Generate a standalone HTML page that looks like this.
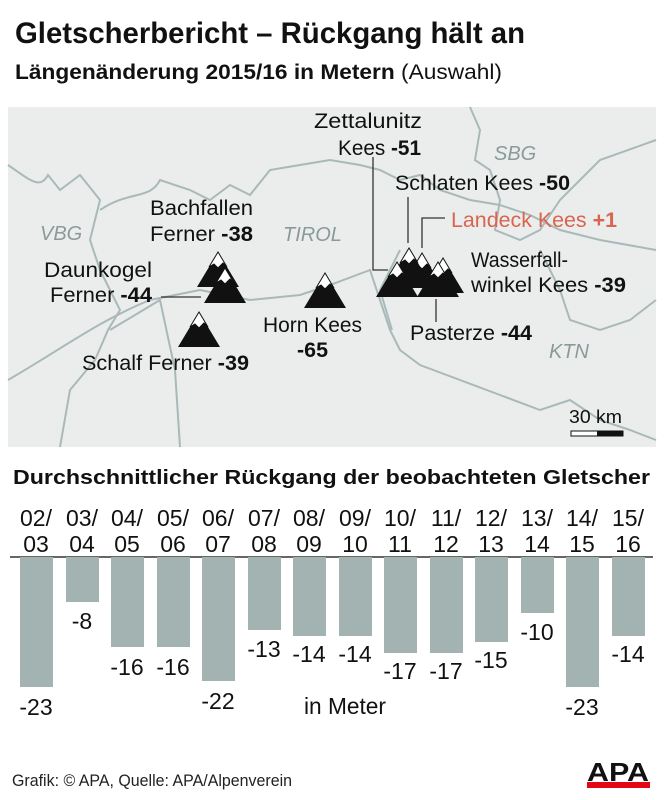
<!DOCTYPE html>
<html><head><meta charset="utf-8"><style>
html,body{margin:0;padding:0;background:#fff;}
svg{display:block;}
text{font-family:"Liberation Sans Narrow","Liberation Sans",sans-serif;}
</style></head><body>
<svg width="665" height="800" viewBox="0 0 665 800" xmlns="http://www.w3.org/2000/svg">
<text x="15" y="43" font-size="30" font-weight="bold" fill="#111" textLength="510" lengthAdjust="spacingAndGlyphs">Gletscherbericht – Rückgang hält an</text>
<text x="15" y="79" font-size="21" fill="#111" textLength="487" lengthAdjust="spacingAndGlyphs"><tspan font-weight="bold">Längenänderung 2015/16 in Metern</tspan> (Auswahl)</text>

<!-- map -->
<rect x="8" y="107" width="648" height="340" fill="#ebeded"/>
<g fill="none" stroke="#a9b9b9" stroke-width="2">
<path d="M8 165 C30 180 40 190 48 175 L60 190 L80 175 L100 200 L90 240 L100 270 L120 310 L108 330 L95 360 L70 390 L60 447"/>
<path d="M100 210 C130 190 150 200 160 180 L190 190 L210 200 L230 185 L250 195 L270 170 L300 165 L330 160 L360 165 L380 170 L400 180 L420 175 L440 190 L470 200 L500 205 L530 215 L560 230 L600 240 L656 250"/>
<path d="M470 107 L480 130 L475 160 L490 170 L500 200 L495 230 L520 240 L540 230 L560 200 L580 180 L600 160 L656 140"/>
<path d="M8 380 C60 350 100 320 150 300 L200 290 L250 300 L300 295 L330 285 L370 270 L380 300 L390 330 L400 350 L420 365 L460 380 L500 395 L540 410 L570 400 L600 420 L630 430 L656 440"/>
<path d="M400 250 L380 290 L392 330"/>
<path d="M540 250 L560 290 L570 320 L600 330 L630 320 L656 300"/>
<path d="M110 330 L160 300 L175 370 L180 447"/>
</g>
<g font-style="italic" fill="#8a9a9a" font-size="20">
<text x="40" y="240">VBG</text><text x="283" y="241">TIROL</text><text x="494" y="160">SBG</text><text x="549" y="358">KTN</text>
</g>
<!-- leader lines -->
<g stroke="#333" stroke-width="1.3" fill="none">
<path d="M373 157 L373 270 L388 270"/>
<path d="M408 197 L408 243"/><path d="M445 218 L422 218 L422 248"/>
<path d="M436 299 L436 322"/><path d="M161 297 L201 297"/>
</g>
<!-- mountains -->
<defs><g id="m"><polygon points="0,0 -21,35 21,35" fill="#111"/><polygon points="0,0 -9,15 -4,12 0,16 5,11 9,15" fill="#fff" stroke="#111" stroke-width="1"/></g></defs>
<use href="#m" x="218" y="252"/><use href="#m" x="225" y="268"/><use href="#m" x="199" y="312"/><use href="#m" x="325" y="273"/>
<use href="#m" x="443" y="258"/><use href="#m" x="422" y="253"/><use href="#m" x="409" y="248"/><use href="#m" x="438" y="262"/><use href="#m" x="397" y="262"/>
<g font-size="21" fill="#111" lengthAdjust="spacingAndGlyphs">
<text x="314" y="128" textLength="108" lengthAdjust="spacingAndGlyphs">Zettalunitz</text>
<text x="338" y="155" textLength="83" lengthAdjust="spacingAndGlyphs">Kees <tspan font-weight="bold">-51</tspan></text>
<text x="395" y="190" textLength="175" lengthAdjust="spacingAndGlyphs">Schlaten Kees <tspan font-weight="bold">-50</tspan></text>
<text x="451" y="227" fill="#d9654e" textLength="166" lengthAdjust="spacingAndGlyphs">Landeck Kees <tspan font-weight="bold">+1</tspan></text>
<text x="471" y="267" textLength="97" lengthAdjust="spacingAndGlyphs">Wasserfall-</text>
<text x="471" y="292" textLength="155" lengthAdjust="spacingAndGlyphs">winkel Kees <tspan font-weight="bold">-39</tspan></text>
<text x="410" y="340" textLength="122" lengthAdjust="spacingAndGlyphs">Pasterze <tspan font-weight="bold">-44</tspan></text>
<text x="150" y="215" textLength="103" lengthAdjust="spacingAndGlyphs">Bachfallen</text>
<text x="150" y="241" textLength="103" lengthAdjust="spacingAndGlyphs">Ferner <tspan font-weight="bold">-38</tspan></text>
<text x="44" y="277" textLength="108" lengthAdjust="spacingAndGlyphs">Daunkogel</text>
<text x="50" y="302" textLength="102" lengthAdjust="spacingAndGlyphs">Ferner <tspan font-weight="bold">-44</tspan></text>
<text x="263" y="332" textLength="99" lengthAdjust="spacingAndGlyphs">Horn Kees</text>
<text x="297" y="357" font-weight="bold" textLength="31" lengthAdjust="spacingAndGlyphs">-65</text>
<text x="82" y="370" textLength="167" lengthAdjust="spacingAndGlyphs">Schalf Ferner <tspan font-weight="bold">-39</tspan></text>
<text x="569" y="423" font-size="18" textLength="53" lengthAdjust="spacingAndGlyphs">30 km</text>
</g>
<rect x="571" y="431" width="52" height="5" fill="#fff" stroke="#111" stroke-width="1"/>
<rect x="597" y="431" width="26" height="5" fill="#111"/>

<text x="13" y="484" font-size="20" font-weight="bold" fill="#111" textLength="637" lengthAdjust="spacingAndGlyphs">Durchschnittlicher Rückgang der beobachteten Gletscher</text>

<line x1="10" y1="557" x2="653" y2="557" stroke="#333" stroke-width="1.5"/>
<g fill="#a3b3b1">
<rect x="20" y="557" width="33" height="130"/>
<rect x="66" y="557" width="33" height="45"/>
<rect x="111" y="557" width="33" height="90"/>
<rect x="157" y="557" width="33" height="90"/>
<rect x="202" y="557" width="33" height="124"/>
<rect x="248" y="557" width="33" height="73"/>
<rect x="293" y="557" width="33" height="79"/>
<rect x="339" y="557" width="33" height="79"/>
<rect x="384" y="557" width="33" height="96"/>
<rect x="430" y="557" width="33" height="96"/>
<rect x="475" y="557" width="33" height="85"/>
<rect x="521" y="557" width="33" height="56"/>
<rect x="566" y="557" width="33" height="130"/>
<rect x="612" y="557" width="33" height="79"/>
</g>
<g font-size="23" fill="#111" text-anchor="middle">
<text x="36" y="526">02/</text><text x="36" y="552">03</text>
<text x="82" y="526">03/</text><text x="82" y="552">04</text>
<text x="127" y="526">04/</text><text x="127" y="552">05</text>
<text x="173" y="526">05/</text><text x="173" y="552">06</text>
<text x="218" y="526">06/</text><text x="218" y="552">07</text>
<text x="264" y="526">07/</text><text x="264" y="552">08</text>
<text x="309" y="526">08/</text><text x="309" y="552">09</text>
<text x="355" y="526">09/</text><text x="355" y="552">10</text>
<text x="400" y="526">10/</text><text x="400" y="552">11</text>
<text x="446" y="526">11/</text><text x="446" y="552">12</text>
<text x="491" y="526">12/</text><text x="491" y="552">13</text>
<text x="537" y="526">13/</text><text x="537" y="552">14</text>
<text x="582" y="526">14/</text><text x="582" y="552">15</text>
<text x="628" y="526">15/</text><text x="628" y="552">16</text>
<text x="36" y="715">-23</text><text x="82" y="629">-8</text><text x="127" y="675">-16</text><text x="173" y="675">-16</text>
<text x="218" y="709">-22</text><text x="264" y="657">-13</text><text x="309" y="662">-14</text><text x="355" y="662">-14</text>
<text x="400" y="679">-17</text><text x="446" y="679">-17</text><text x="491" y="668">-15</text><text x="537" y="640">-10</text>
<text x="582" y="715">-23</text><text x="628" y="662">-14</text>
<text x="345" y="714" textLength="82" lengthAdjust="spacingAndGlyphs">in Meter</text>
</g>
<text x="12" y="786" font-size="17" fill="#222" textLength="280" lengthAdjust="spacingAndGlyphs">Grafik: © APA, Quelle: APA/Alpenverein</text>
<text x="618" y="781" font-size="26" font-weight="bold" fill="#111" text-anchor="middle" textLength="62" lengthAdjust="spacingAndGlyphs">APA</text>
<rect x="587" y="782" width="63" height="6" fill="#e30613"/>
</svg>
</body></html>
